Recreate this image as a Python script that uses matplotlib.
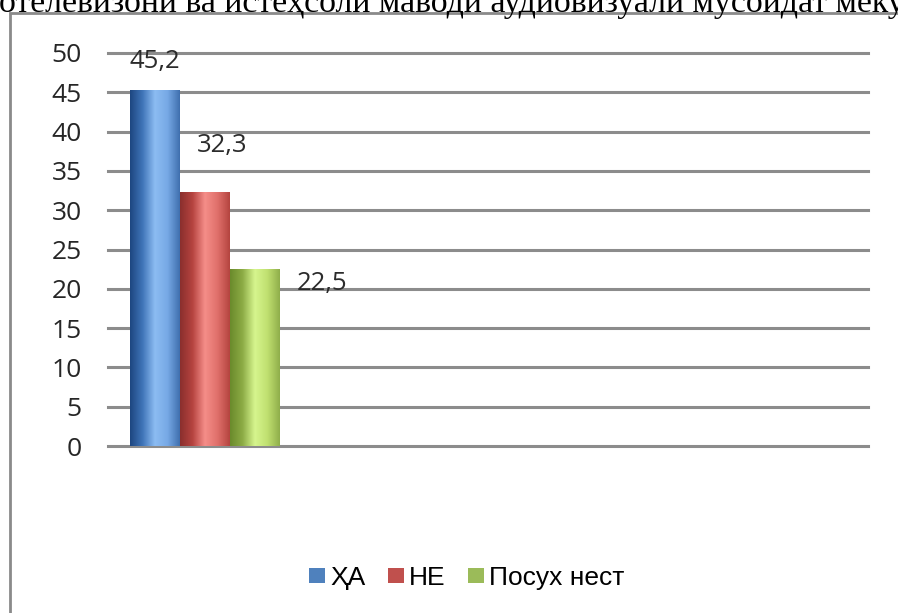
import matplotlib.pyplot as plt
import numpy as np
from matplotlib.colors import LinearSegmentedColormap
from matplotlib.patches import Rectangle, Patch

# данные
series = ['ҲА', 'НЕ', 'Посух нест']
values = [45.2, 32.3, 22.5]
value_labels = ['45,2', '32,3', '22,5']
yticks = [0, 5, 10, 15, 20, 25, 30, 35, 40, 45, 50]
title_text = 'отелевизони ва истеҳсоли маводи аудиовизуали мусоидат мекунад'

flat_colors = ['#4f81bd', '#c0504d', '#9bbb59']
# градиенты для столбиков (слева тёмный, посередине светлый)
grad_stops = [
    ['#1d4680', '#3f74b8', '#8cbcf2', '#77a9e6', '#3f6fae'],
    ['#8a2f2d', '#b5433f', '#f58e89', '#e0706b', '#b4443f'],
    ['#6a8a2c', '#8cab45', '#d6f58e', '#c0e070', '#8fae4a'],
]
# смещения подписей (в пикселях) от верхушки столбика
label_offsets = [(0, 29), (17, 47), (67, -14)]

fig = plt.figure(figsize=(8.98, 6.13), dpi=100)
ax = fig.add_axes([108 / 898, 1 - 446 / 613, 760 / 898, 393 / 613])

w = 1 / 3
xs = [-w, 0, w]
bars = ax.bar(xs, values, width=w, color=flat_colors, zorder=2)

grad = np.linspace(0, 1, 256).reshape(1, -1)
for bar, stops in zip(bars, grad_stops):
    cmap = LinearSegmentedColormap.from_list('g', stops)
    x0, y0 = bar.get_x(), bar.get_y()
    ax.imshow(grad, cmap=cmap, aspect='auto', zorder=2.5,
              extent=[x0, x0 + bar.get_width(), y0, y0 + bar.get_height()])

for bar, lab, (dx, dy) in zip(bars, value_labels, label_offsets):
    ax.annotate(lab, xy=(bar.get_x() + bar.get_width() / 2, bar.get_height()),
                xytext=(dx, dy), textcoords='offset pixels',
                ha='center', va='center', fontsize=18.5, color='#2b2b2b',
                family='Open Sans', zorder=4)

ax.set_xlim(-0.5 - 22 / 150, 0.5 + 588 / 150)
ax.set_ylim(0, 50)
ax.set_yticks(yticks)
ax.set_xticks([])
ax.yaxis.grid(True, color='#8c8c8c', linewidth=2.2)
for gl in ax.get_ygridlines():
    gl.set_clip_on(False)
ax.set_axisbelow(True)
for s in ax.spines.values():
    s.set_visible(False)
ax.tick_params(axis='y', length=0, pad=19, labelsize=19, labelcolor='#262626')
for t in ax.get_yticklabels():
    t.set_family('Open Sans')

handles = [Patch(facecolor=c, edgecolor='none') for c in flat_colors]
fig.legend(handles, series, loc='center', bbox_to_anchor=(467 / 898, 1 - 578 / 613),
           ncol=3, frameon=False, prop={'family': 'Liberation Sans', 'size': 19},
           handlelength=0.6, handleheight=0.5, handletextpad=0.2, columnspacing=0.85)

# рамка диаграммы
fig.patches.append(Rectangle((9.5 / 898, -0.2), 2, 1.2 - 13 / 613,
                             transform=fig.transFigure, fill=False,
                             edgecolor='#8a8a8a', linewidth=2))

# обрезанный заголовок сверху (в оригинале обрезан краями картинки)
fig.text(-1 / 898, 1 - 12 / 613, title_text, family='Liberation Serif',
         fontsize=24.4, va='baseline', ha='left', color='black')

fig.savefig('out.png', dpi=100)
